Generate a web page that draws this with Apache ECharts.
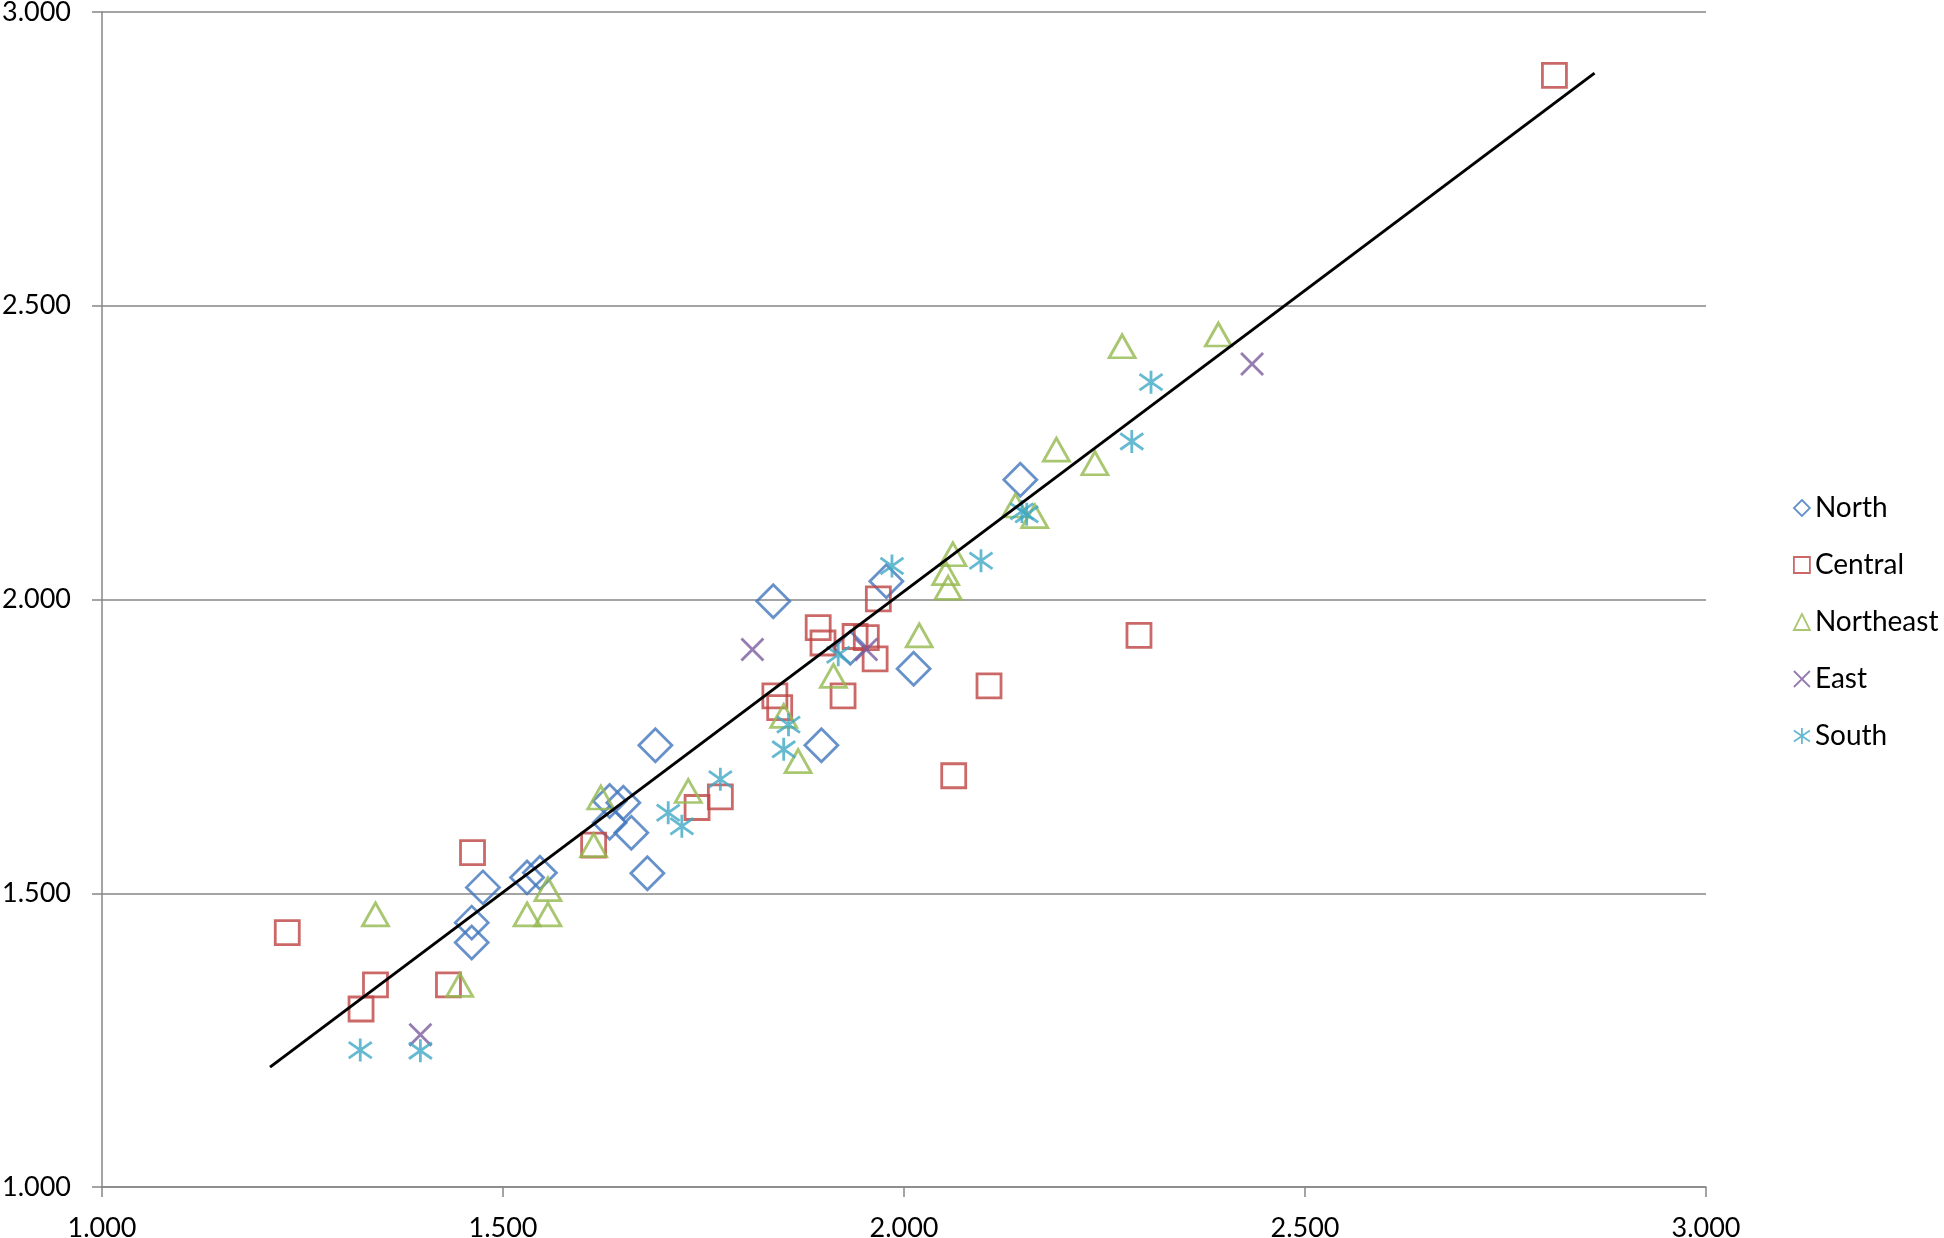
<!DOCTYPE html>
<html>
<head>
<meta charset="utf-8">
<script src="https://cdn.jsdelivr.net/npm/echarts@6/dist/echarts.min.js"></script>
<style>
  html, body { margin: 0; padding: 0; background: #fff; }
  #main { width: 1944px; height: 1238px; }
</style>
</head>
<body>
<div id="main"></div>
<script>
// values
var seriesNames = ['North', 'Central', 'Northeast', 'East', 'South']
var northData = [
  [2.145, 2.204], [1.837, 1.997], [1.978, 2.031], [2.012, 1.882], [1.897, 1.752],
  [1.690, 1.752], [1.633, 1.657], [1.650, 1.654], [1.633, 1.620], [1.660, 1.603],
  [1.680, 1.534], [1.546, 1.535], [1.530, 1.527], [1.475, 1.510], [1.461, 1.450],
  [1.461, 1.416], [1.933, 1.918]
]
var centralData = [
  [1.231, 1.433], [1.462, 1.569], [1.613, 1.582], [1.341, 1.344], [1.323, 1.303],
  [1.432, 1.344], [1.742, 1.646], [1.771, 1.664], [1.839, 1.836], [1.845, 1.816],
  [1.893, 1.952], [1.899, 1.926], [1.939, 1.937], [1.953, 1.935], [1.964, 1.899],
  [1.924, 1.836], [1.968, 2.001], [2.062, 1.700], [2.106, 1.853], [2.293, 1.939],
  [2.811, 2.892]
]
var northeastData = [
  [1.341, 1.464], [1.556, 1.507], [1.530, 1.464], [1.556, 1.464], [1.613, 1.582],
  [1.622, 1.663], [1.446, 1.344], [1.731, 1.674], [1.850, 1.802], [1.868, 1.725],
  [1.912, 1.870], [2.019, 1.939], [2.061, 2.077], [2.052, 2.045], [2.055, 2.020],
  [2.139, 2.160], [2.163, 2.142], [2.190, 2.255], [2.238, 2.232], [2.272, 2.431],
  [2.392, 2.451]
]
var eastData = [
  [1.397, 1.259], [1.811, 1.915], [1.953, 1.915], [2.434, 2.401]
]
var southData = [
  [1.322, 1.233], [1.397, 1.232], [1.706, 1.637], [1.723, 1.614], [1.771, 1.694],
  [1.856, 1.787], [1.850, 1.745], [1.918, 1.906], [1.985, 2.057], [2.096, 2.066],
  [2.147, 2.150], [2.153, 2.145], [2.284, 2.269], [2.308, 2.370]
]
var trendLine = [[1.2095, 1.204], [2.861, 2.896]]
var axisMin = 1
var axisMax = 3
var tickStep = 0.5

var chart = echarts.init(document.getElementById('main'), null, { renderer: 'canvas' })
var font = 'Lato, "Open Sans", sans-serif'
var gray = '#868686'

function scatter(name, data, symbol, size, color) {
  return {
    name: name,
    type: 'scatter',
    data: data,
    symbol: symbol,
    symbolSize: size,
    itemStyle: {
      color: 'rgba(0,0,0,0)',
      borderColor: color,
      borderWidth: 2.8
    },
    z: 3
  }
}

var option = {
  animation: false,
  backgroundColor: '#fff',
  grid: {
    left: 102,
    right: 238,
    top: 12,
    bottom: 51,
    outerBoundsMode: 'none'
  },
  legend: {
    orient: 'vertical',
    left: 1788,
    top: 489,
    itemWidth: 16,
    itemHeight: 16,
    itemGap: 29,
    data: seriesNames,
    textStyle: { fontFamily: font, fontSize: 28, color: '#000' },
    itemStyle: { borderWidth: 1.8 }
  },
  xAxis: {
    type: 'value',
    min: axisMin,
    max: axisMax,
    interval: tickStep,
    axisLine: { onZero: false, lineStyle: { color: gray, width: 1.5 } },
    axisTick: { show: true, length: 10, lineStyle: { color: gray, width: 1.5 } },
    splitLine: { show: false },
    axisLabel: {
      margin: 28,
      fontFamily: font,
      fontSize: 27,
      color: '#000',
      formatter: function (v) { return v.toFixed(3) }
    }
  },
  yAxis: {
    type: 'value',
    min: axisMin,
    max: axisMax,
    interval: tickStep,
    axisLine: { show: true, onZero: false, lineStyle: { color: gray, width: 1.5 } },
    axisTick: { show: true, length: 10, lineStyle: { color: gray, width: 1.5 } },
    splitLine: { show: true, lineStyle: { color: gray, width: 1.5 } },
    axisLabel: {
      margin: 31,
      fontFamily: font,
      fontSize: 27,
      color: '#000',
      formatter: function (v) { return v.toFixed(3) }
    }
  },
  series: [
    scatter('North', northData, 'diamond', 33, '#4176BD'),
    scatter('Central', centralData, 'rect', 24, '#BE4442'),
    scatter('Northeast', northeastData, 'triangle', [26, 23], '#93B84E'),
    scatter('East', eastData, 'path://M0,0L10,10M10,0L0,10', 22, '#7A5B9E'),
    scatter('South', southData, 'path://M5,0L5,10M0,1.5L10,8.5M0,8.5L10,1.5', 23, '#3EA8C4'),
    {
      name: 'trend',
      type: 'line',
      data: trendLine,
      symbol: 'none',
      lineStyle: { color: '#000', width: 3 },
      z: 4
    }
  ]
}
chart.setOption(option)
</script>
</body>
</html>
